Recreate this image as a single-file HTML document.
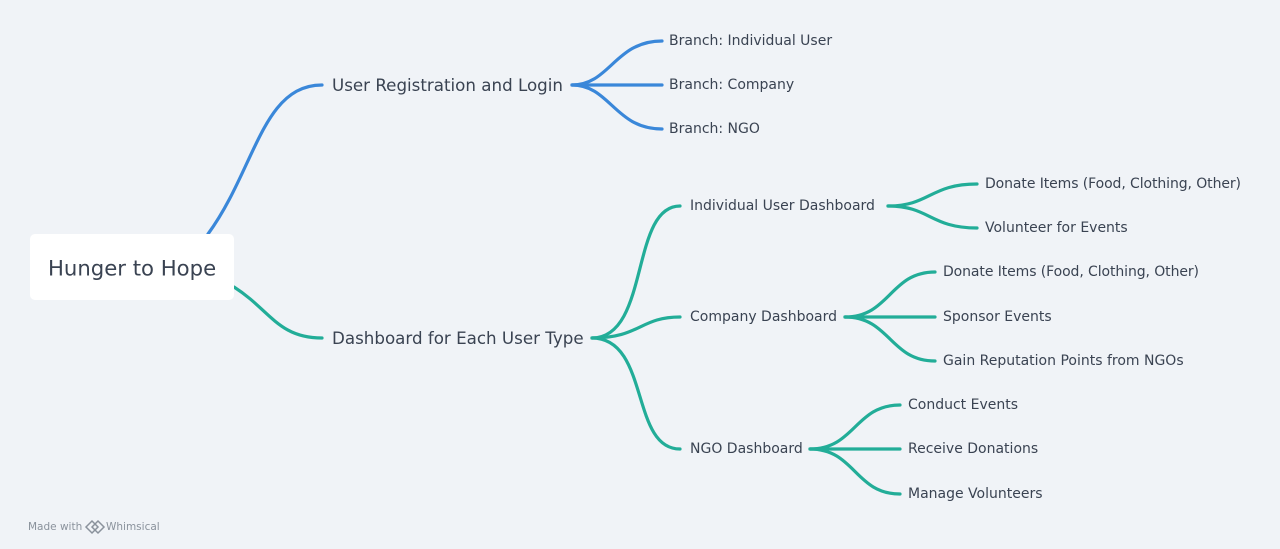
<!DOCTYPE html>
<html><head><style>
html,body{margin:0;padding:0;background:#f0f3f7;}
svg{display:block}
text{font-family:"DejaVu Sans","Liberation Sans",sans-serif;fill:#3a4352;dominant-baseline:central}
</style></head><body>
<svg width="1280" height="549" viewBox="0 0 1280 549" xmlns="http://www.w3.org/2000/svg">
<rect width="1280" height="549" fill="#f0f3f7"/>
<g fill="none" stroke-width="3.2" stroke-linecap="round">
<g stroke="#3a87d9">
<path d="M208,234 C255,170 262,85 322,85"/>
<path d="M572,85 C610,85 615,41 662,41"/>
<path d="M572,85 L662,85"/>
<path d="M572,85 C610,85 615,129 662,129"/>
</g>
<g stroke="#22ad98">
<path d="M234,287 C270,310 278,338 322,338"/>
<path d="M592,338 C650,338 630,206 680,206"/>
<path d="M592,338 C640,338 640,317 680,317"/>
<path d="M592,338 C650,338 630,449 680,449"/>
<path d="M888,206 C930,206 930,184 977,184"/>
<path d="M888,206 C930,206 930,228 977,228"/>
<path d="M845,317 C890,317 890,272 935,272"/>
<path d="M845,317 L935,317"/>
<path d="M845,317 C890,317 890,361 935,361"/>
<path d="M810,449 C855,449 855,405 900,405"/>
<path d="M810,449 L900,449"/>
<path d="M810,449 C855,449 855,494 900,494"/>
</g>
</g>
<rect x="30" y="234" width="204" height="66" rx="5" fill="#fff"/>
<text x="48" y="268" font-size="21.2">Hunger to Hope</text>
<text x="332" y="85" font-size="16.7">User Registration and Login</text>
<text x="332" y="338" font-size="16.7">Dashboard for Each User Type</text>
<g font-size="14">
<text x="669" y="41">Branch: Individual User</text>
<text x="669" y="85">Branch: Company</text>
<text x="669" y="129">Branch: NGO</text>
<text x="690" y="206">Individual User Dashboard</text>
<text x="690" y="317">Company Dashboard</text>
<text x="690" y="449">NGO Dashboard</text>
<text x="985" y="184" textLength="256">Donate Items (Food, Clothing, Other)</text>
<text x="985" y="228">Volunteer for Events</text>
<text x="943" y="272" textLength="256">Donate Items (Food, Clothing, Other)</text>
<text x="943" y="317">Sponsor Events</text>
<text x="943" y="361">Gain Reputation Points from NGOs</text>
<text x="908" y="405">Conduct Events</text>
<text x="908" y="449">Receive Donations</text>
<text x="908" y="494">Manage Volunteers</text>
</g>
<text x="28" y="527" font-size="10.5" style="fill:#8a929c">Made with</text>
<path d="M86,527 l6,-6 l6,6 l-6,6z M92,527 l6,-6 l6,6 l-6,6z" fill="none" stroke="#8a929c" stroke-width="1.5"/>
<text x="106" y="527" font-size="10.5" style="fill:#8a929c">Whimsical</text>
</svg>
</body></html>
